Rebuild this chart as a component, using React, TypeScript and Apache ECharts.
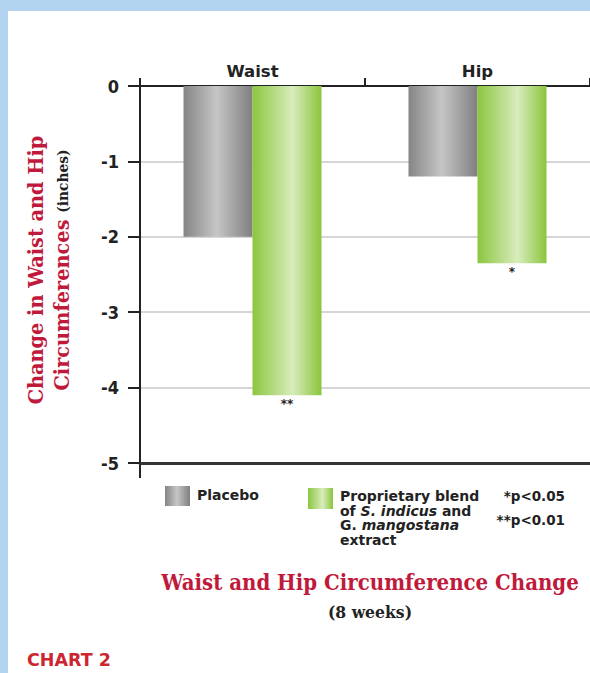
import React, { useEffect, useRef } from "react";
import * as echarts from "echarts";

const categories = ["Waist", "Hip"];
const placeboValues = [-2.0, -1.2];
const blendValues = [-4.1, -2.35];
const blendSignificance = ["**", "*"];
const yTicks = [0, -1, -2, -3, -4, -5];
const seriesNames = ["Placebo", "Proprietary blend of S. indicus and G. mangostana extract"];

const RED = "#bf1a3c";
const grayStops = [
  { offset: 0, color: "#858585" },
  { offset: 0.48, color: "#c6c6c6" },
  { offset: 1, color: "#7f7f7f" },
];
const greenStops = [
  { offset: 0, color: "#8cc63f" },
  { offset: 0.58, color: "#d8ecbd" },
  { offset: 1, color: "#8bc53c" },
];
const grad = (stops: any[]) => new echarts.graphic.LinearGradient(0, 0, 1, 0, stops);

const SANS = "'DejaVu Sans', 'Liberation Sans', Arial, sans-serif";
const NARROW = "'Liberation Sans Narrow', 'DejaVu Sans Condensed', 'Roboto', sans-serif";
const SERIF = "'DejaVu Serif', serif";

export default function App() {
  const ref = useRef<HTMLDivElement>(null);
  useEffect(() => {
    if (!ref.current) return;
    const chart = echarts.init(ref.current, undefined, { renderer: "svg" });
    const option: any = {
      animation: false,
      backgroundColor: "transparent",
      grid: { left: 140, top: 86, width: 452, height: 377, containLabel: false },
      xAxis: [
        {
          type: "category",
          position: "top",
          data: categories,
          axisLine: { show: true, onZero: false, lineStyle: { color: "#222", width: 2 } },
          axisTick: { show: true, length: 8, lineStyle: { color: "#222", width: 2 } },
          axisLabel: { fontFamily: SANS, fontWeight: "bold", fontSize: 16.5, color: "#222", margin: 6 },
          splitLine: { show: false },
        },
        {
          type: "category",
          position: "bottom",
          data: categories,
          axisLine: { show: true, onZero: false, lineStyle: { color: "#333", width: 3 } },
          axisTick: { show: false },
          axisLabel: { show: false },
        },
      ],
      yAxis: {
        type: "value",
        min: -5,
        max: 0,
        interval: 1,
        axisLine: { show: true, lineStyle: { color: "#222", width: 2 } },
        axisTick: { show: true, length: 12, lineStyle: { color: "#222", width: 2 } },
        axisLabel: {
          fontFamily: NARROW,
          fontWeight: "bold",
          fontSize: 18,
          color: "#222",
          margin: 21,
          padding: [0, 0, 8, 0],
          formatter: (v: number) => (yTicks.includes(v) ? String(v) : ""),
        },
        splitLine: { show: true, lineStyle: { color: "#c9c9c9", width: 1.5 } },
      },
      series: [
        {
          name: seriesNames[0],
          type: "bar",
          data: placeboValues,
          barWidth: 69,
          barGap: "0%",
          itemStyle: { color: grad(grayStops) },
        },
        {
          name: seriesNames[1],
          type: "bar",
          data: blendValues.map((v, i) => ({
            value: v,
            label: { show: true, formatter: blendSignificance[i] },
          })),
          barWidth: 69,
          barGap: "0%",
          itemStyle: { color: grad(greenStops) },
          label: {
            show: true,
            position: "bottom",
            distance: 3,
            fontFamily: SANS,
            fontWeight: "bold",
            fontSize: 12,
            color: "#222",
          },
        },
      ],
      graphic: [
        { type: "line", shape: { x1: 140, y1: 463, x2: 140, y2: 478 }, style: { stroke: "#222", lineWidth: 2 } },
        {
          type: "text",
          x: 49,
          y: 270,
          rotation: Math.PI / 2,
          scaleX: 0.92,
          style: {
            text: "{r|Change in Waist and Hip}\n{r|Circumferences }{k|(inches)}",
            align: "center",
            verticalAlign: "middle",
            rich: {
              r: { fontFamily: SERIF, fontWeight: "bold", fontSize: 21, fill: RED, lineHeight: 26 },
              k: { fontFamily: SERIF, fontWeight: "bold", fontSize: 15, fill: "#222", lineHeight: 26 },
            },
          },
        },
        // legend
        { type: "rect", shape: { x: 165, y: 486, width: 25, height: 20 }, style: { fill: grad(grayStops) } },
        {
          type: "text",
          x: 197,
          y: 495,
          style: { text: "Placebo", fontFamily: SANS, fontWeight: "bold", fontSize: 14, fill: "#222", verticalAlign: "middle" },
        },
        { type: "rect", shape: { x: 308, y: 488, width: 25, height: 21 }, style: { fill: grad(greenStops) } },
        {
          type: "text",
          x: 340,
          y: 489,
          style: {
            text: "{b|Proprietary blend}\n{b|of }{i|S. indicus}{b| and}\n{b|G. }{i|mangostana}\n{b|extract}",
            verticalAlign: "top",
            rich: {
              b: { fontFamily: SANS, fontWeight: "bold", fontSize: 14, fill: "#222", lineHeight: 14.5 },
              i: { fontFamily: SANS, fontWeight: "bold", fontStyle: "italic", fontSize: 14, fill: "#222", lineHeight: 14.5 },
            },
          },
        },
        {
          type: "text",
          x: 565,
          y: 496,
          style: { text: "*p<0.05", align: "right", verticalAlign: "middle", fontFamily: SANS, fontWeight: "bold", fontSize: 13.5, fill: "#222" },
        },
        {
          type: "text",
          x: 565,
          y: 520,
          style: { text: "**p<0.01", align: "right", verticalAlign: "middle", fontFamily: SANS, fontWeight: "bold", fontSize: 13.5, fill: "#222" },
        },
        // title
        {
          type: "text",
          x: 370,
          y: 582,
          scaleX: 0.9,
          style: { text: "Waist and Hip Circumference Change", align: "center", verticalAlign: "middle", fontFamily: SERIF, fontWeight: "bold", fontSize: 22, fill: RED },
        },
        {
          type: "text",
          x: 370,
          y: 612,
          scaleX: 0.92,
          style: { text: "(8 weeks)", align: "center", verticalAlign: "middle", fontFamily: SERIF, fontWeight: "bold", fontSize: 17, fill: "#222" },
        },
        {
          type: "text",
          x: 27,
          y: 660,
          style: { text: "CHART 2", verticalAlign: "middle", fontFamily: SANS, fontWeight: "bold", fontSize: 17.5, fill: "#cc2630" },
        },
      ],
    };
    chart.setOption(option);
    return () => chart.dispose();
  }, []);

  return (
    <div style={{ position: "absolute", left: 0, top: 0, width: 590, height: 673, background: "#b2d4f0", overflow: "hidden" }}>
      <div style={{ position: "absolute", left: 8, top: 11, right: 0, bottom: 0, background: "#ffffff" }} />
      <div ref={ref} style={{ position: "absolute", left: 0, top: 0, width: 590, height: 673 }} />
    </div>
  );
}
